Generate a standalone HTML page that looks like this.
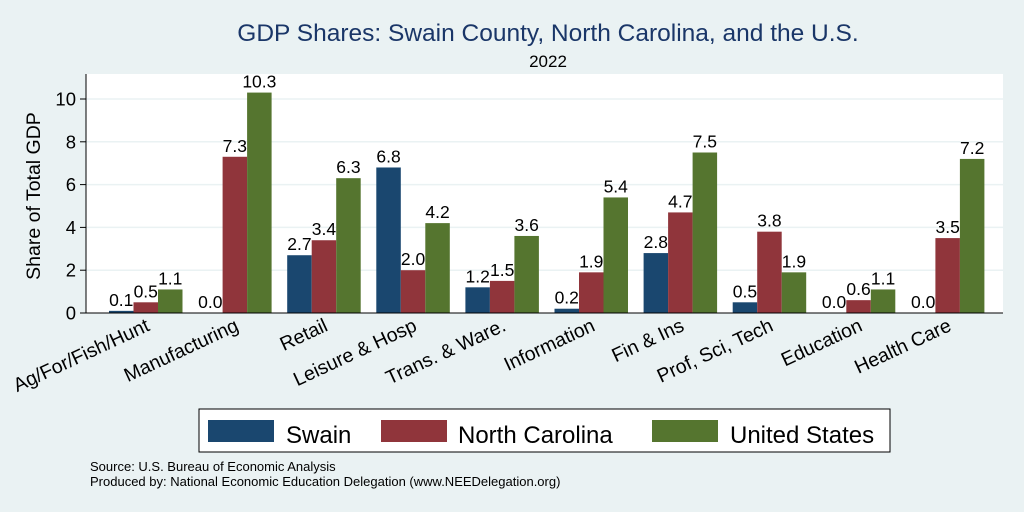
<!DOCTYPE html>
<html><head><meta charset="utf-8"><style>
body{margin:0;background:#eaf2f3;}
svg{display:block;font-family:"Liberation Sans",Arial,sans-serif;}
</style></head><body>
<svg id="c" width="1024" height="512">
<rect x="0" y="0" width="1024" height="512" fill="#eaf2f3"/>
<rect x="86" y="74" width="917" height="239" fill="#ffffff"/>
<text x="548" y="41" font-size="24.5" fill="#1a3668" text-anchor="middle">GDP Shares: Swain County, North Carolina, and the U.S.</text>
<text x="548" y="67" font-size="17" fill="#000" text-anchor="middle">2022</text>
<text transform="translate(40,196) rotate(-90)" font-size="19.5" text-anchor="middle">Share of Total GDP</text>
<g id="grid"></g><g id="bars"></g><g id="labels"></g>
<line x1="86" y1="74" x2="86" y2="313" stroke="#000" stroke-width="1"/>
<line x1="86" y1="313" x2="1003" y2="313" stroke="#000" stroke-width="1"/>
<g>
<rect x="199" y="409" width="691" height="43" fill="#fff" stroke="#000"/>
<rect x="208" y="420" width="66" height="22" fill="#1a476f"/>
<text x="286" y="443" font-size="24">Swain</text>
<rect x="381" y="420" width="66" height="22" fill="#90353b"/>
<text x="458" y="443" font-size="24">North Carolina</text>
<rect x="652" y="420" width="66" height="22" fill="#55752f"/>
<text x="730" y="443" font-size="24">United States</text>
</g>
<text x="90" y="471" font-size="13">Source: U.S. Bureau of Economic Analysis</text>
<text x="90" y="486" font-size="13">Produced by: National Economic Education Delegation (www.NEEDelegation.org)</text>
</svg>
<script>
const categories=["Ag/For/Fish/Hunt","Manufacturing","Retail","Leisure & Hosp","Trans. & Ware.","Information","Fin & Ins","Prof, Sci, Tech","Education","Health Care"];
const swain=[0.1,0.0,2.7,6.8,1.2,0.2,2.8,0.5,0.0,0.0];
const nc=[0.5,7.3,3.4,2.0,1.5,1.9,4.7,3.8,0.6,3.5];
const us=[1.1,10.3,6.3,4.2,3.6,5.4,7.5,1.9,1.1,7.2];
const yTicks=[0,2,4,6,8,10];
const NS="http://www.w3.org/2000/svg";
const y=v=>313-v*21.4;
const x=i=>109+i*89.1;
const bw=24.5;
function mk(t,a,p){const e=document.createElementNS(NS,t);for(const k in a)e.setAttribute(k,a[k]);p.appendChild(e);return e;}
const grid=document.getElementById('grid'),bars=document.getElementById('bars'),labels=document.getElementById('labels');
yTicks.forEach(t=>{
 if(t>0){const g=mk('line',{x1:86,x2:1003,y1:y(t),y2:y(t),stroke:'#eaf2f3','stroke-width':1.5},grid);
 
 }
 const tk=mk('line',{x1:80,x2:86,y1:y(t),y2:y(t),stroke:'#000'},grid);
 
 
 const tl=mk('text',{x:76,y:y(t)+6.5,'font-size':18.5,'text-anchor':'end'},grid);tl.textContent=t;
 
 
});
const series=[[swain,'#1a476f','swain'],[nc,'#90353b','nc'],[us,'#55752f','us']];
categories.forEach((c,i)=>{
 series.forEach(([arr,col,nm],s)=>{
  const v=arr[i],bx=x(i)+s*bw;
  const r=mk('rect',{x:bx,y:y(v),width:bw,height:313-y(v),fill:col},bars);
  
  
  const t=mk('text',{x:bx+bw/2,y:y(v)-5,'font-size':17.5,'text-anchor':'middle'},bars);t.textContent=v.toFixed(1);
  
  
 });
 const cx=x(i)+bw*1.5;
 const l=mk('text',{transform:`translate(${cx+5},${330}) rotate(-25)`,'font-size':19.5,'text-anchor':'end'},labels);l.textContent=c;
 
 
});
</script>
</body></html>
